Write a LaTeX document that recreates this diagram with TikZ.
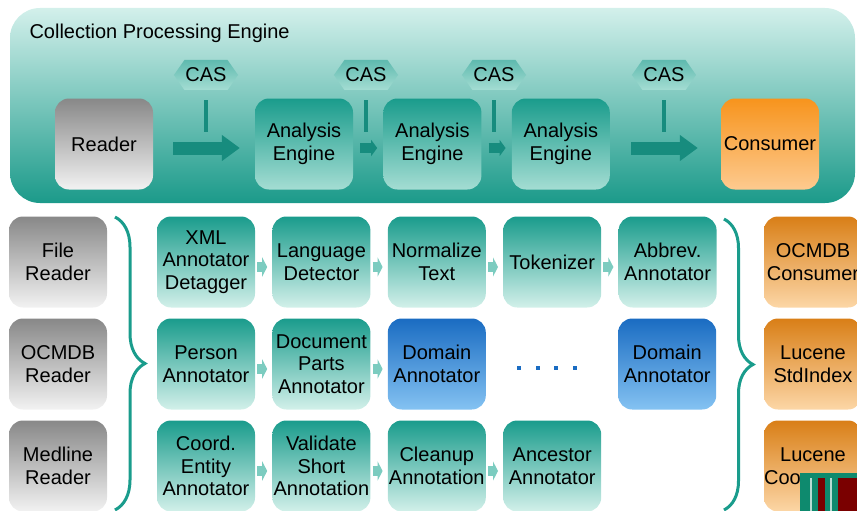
\documentclass[tikz,border=0pt]{standalone}
\usepackage{fontspec}
\setmainfont{Liberation Sans}
\usepackage{xcolor}
\usetikzlibrary{positioning,arrows.meta,calc,shapes.symbols,decorations.pathreplacing}
\definecolor{cpetop}{HTML}{D3F0EB}
\definecolor{cpebot}{HTML}{1B9A8A}
\definecolor{tealdark}{HTML}{1A9C8C}
\definecolor{teallight}{HTML}{D2F0EA}
\definecolor{aelight}{HTML}{A4DDD3}
\definecolor{arrowteal}{HTML}{178C7E}
\definecolor{smallarrow}{HTML}{7CCCC0}
\definecolor{bluedark}{HTML}{1A6CC2}
\definecolor{bluelight}{HTML}{84C2F2}
\definecolor{graydark}{HTML}{888888}
\definecolor{graylight}{HTML}{F2F2F2}
\definecolor{orangetop}{HTML}{F7941D}
\definecolor{orangebot}{HTML}{FDCA8F}
\definecolor{ambertop}{HTML}{D97F17}
\definecolor{amberbot}{HTML}{FCD6A6}
\definecolor{artgreen}{HTML}{0E8A6E}
\definecolor{artred}{HTML}{7A0000}

\begin{document}
\begin{tikzpicture}[
   x=1pt, y=1pt,
   node distance = 17pt and 17pt,
   box/.style = {rounded corners=14pt, minimum width=98pt, minimum height=91pt,
                 inner sep=0pt, align=center, text=black,
                 font=\fontsize{20}{22.5}\selectfont},
   tealbox/.style = {box, top color=tealdark, bottom color=teallight},
   aebox/.style   = {box, top color=tealdark, bottom color=aelight},
   bluebox/.style = {box, top color=bluedark, bottom color=bluelight},
   graybox/.style = {box, top color=graydark, bottom color=graylight},
   outbox/.style  = {box, top color=ambertop, bottom color=amberbot},
   cas/.style = {signal, signal to=west and east, signal pointer angle=110,
                 minimum width=64pt, minimum height=30pt, inner sep=1pt,
                 top color=tealdark!70, bottom color=aelight,
                 font=\fontsize{20}{22}\selectfont},
   bigarr/.style = {-{Triangle[length=18pt,width=25pt]}, line width=13pt, arrowteal},
   smallarr/.style = {-{Triangle[length=6pt,width=16pt]}, line width=10pt, arrowteal},
   stepar/.style = {-{Triangle[length=5pt,width=19pt]}, line width=10pt, smallarrow},
   casline/.style = {line width=4pt, arrowteal},
   brc/.style = {decorate, line width=3pt, tealdark}
]
\useasboundingbox (0,0) rectangle (857,-511);

% collection processing engine
\shade[top color=cpetop, bottom color=cpebot, rounded corners=30pt]
   (10,-8) rectangle (855,-203);
\node[anchor=west, font=\fontsize{20}{22}\selectfont] (cpe) at (26,-33) {Collection Processing Engine};

\node[graybox]                     (reader)   at (104,-144) {Reader};
\node[aebox]                       (ae1)      at (304,-144) {Analysis\\Engine};
\node[aebox, right=30pt of ae1]    (ae2)      {Analysis\\Engine};
\node[aebox, right=30pt of ae2]    (ae3)      {Analysis\\Engine};
\node[box, top color=orangetop, bottom color=orangebot] (consumer) at (770,-144) {Consumer};

\node[cas] (cas1) at (206,-75) {CAS};
\node[cas] (cas2) at (366,-75) {CAS};
\node[cas] (cas3) at (494,-75) {CAS};
\node[cas] (cas4) at (664,-75) {CAS};
\foreach \c in {cas1,cas2,cas3,cas4}
   \draw[casline] ([yshift=-10pt]\c.south) -- ++(0,-32);

\draw[bigarr, shorten <=20pt, shorten >=15pt] ([yshift=-4pt]reader.east) -- ([yshift=-4pt]ae1.west);
\draw[smallarr, shorten <=7pt, shorten >=6pt] ([yshift=-4pt]ae1.east) -- ([yshift=-4pt]ae2.west);
\draw[smallarr, shorten <=7pt, shorten >=6pt] ([yshift=-4pt]ae2.east) -- ([yshift=-4pt]ae3.west);
\draw[bigarr, shorten <=21pt, shorten >=23pt] ([yshift=-4pt]ae3.east) -- ([yshift=-4pt]consumer.west);

% readers
\node[graybox] (file)    at (58,-262) {File\\Reader};
\node[graybox] (ocmdb)   at (58,-364) {OCMDB\\Reader};
\node[graybox] (medline) at (58,-466) {Medline\\Reader};
\draw[brc, decoration={brace, amplitude=30pt}] (115,-217) -- (115,-510);

% annotators
\node[tealbox] (xml)    at (206,-262)     {XML\\Annotator\\Detagger};
\node[tealbox, right=of xml]  (lang)      {Language\\Detector};
\node[tealbox, right=of lang] (norm)      {Normalize\\Text};
\node[tealbox, right=of norm] (token)     {Tokenizer};
\node[tealbox, right=of token] (abbrev)   {Abbrev.\\Annotator};

\node[tealbox] (person) at (206,-364)     {Person\\Annotator};
\node[tealbox, right=of person] (docparts) {Document\\Parts\\Annotator};
\node[bluebox, right=of docparts] (domain1) {Domain\\Annotator};
\node[bluebox, right=132pt of domain1] (domain2) {Domain\\Annotator};
\foreach \dx in {0,...,3}
   \fill[bluedark] ({517+18.5*\dx},-366) rectangle ++(4,-4);

\node[tealbox] (coord)  at (206,-466)     {Coord.\\Entity\\Annotator};
\node[tealbox, right=of coord] (validate) {Validate\\Short\\Annotation};
\node[tealbox, right=of validate] (cleanup) {Cleanup\\Annotation};
\node[tealbox, right=of cleanup] (ancestor) {Ancestor\\Annotator};

\foreach \a/\b in {xml/lang, lang/norm, norm/token, token/abbrev,
                   person/docparts, docparts/domain1,
                   coord/validate, validate/cleanup, cleanup/ancestor}
   \draw[stepar, shorten <=2pt, shorten >=5pt] ([yshift=-5pt]\a.east) -- ([yshift=-5pt]\b.west);

% consumers
\draw[brc, decoration={brace, amplitude=29pt}] (724,-219) -- (724,-510);
\node[outbox] (ocmdbcons) at (813,-262) {OCMDB\\Consumer};
\node[outbox] (stdindex)  at (813,-364) {Lucene\\StdIndex};
\node[outbox] (coolucene) at (813,-466) {Lucene\\Coo\phantom{rdinate}};

% overlay in the corner
\fill[artgreen] (800,-473) rectangle (857,-511);
\fill[artred] (818,-478) rectangle (825,-511);
\fill[artred] (838,-478) rectangle (857,-511);
\fill[white!70!artgreen] (810,-478) rectangle (812,-511);
\fill[white!70!artgreen] (830,-478) rectangle (832,-511);
\end{tikzpicture}
\end{document}
